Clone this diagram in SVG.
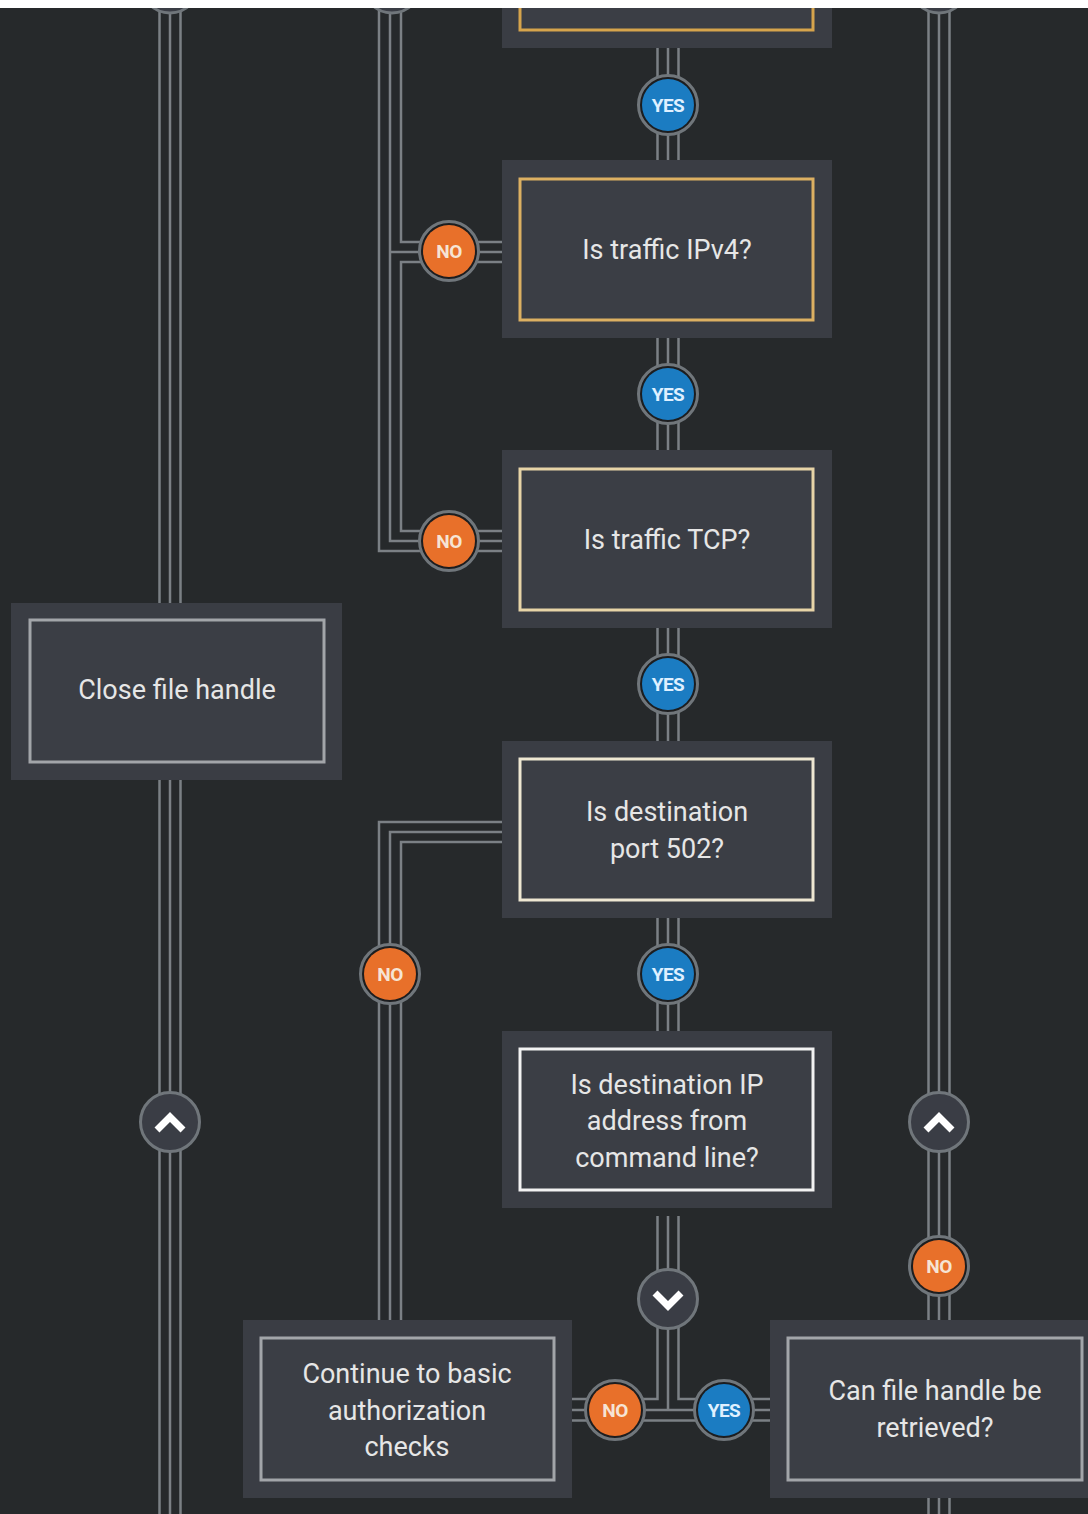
<svg xmlns="http://www.w3.org/2000/svg" width="1088" height="1514" viewBox="0 0 1088 1514">
<style>
.bg{fill:#26292b}
.outer{fill:#3a3d44}
.inner{fill:#3b3e45;stroke-width:3}
.c1{stroke:#d6a44c}
.c2{stroke:#dcb062}
.c3{stroke:#e7d4a7}
.c4{stroke:#eee7d2}
.c5{stroke:#f2f2f2}
.cg{stroke:#a2a5a9}
.lbl{font-family:Roboto,"Liberation Sans",sans-serif;font-size:27px;fill:#e6e6e6;text-anchor:middle}
.conn path{fill:none;stroke:#7b8085;stroke-width:2.5}
.ring{stroke:#70767b;stroke-width:3;fill:#1c1d1f}
.no{fill:#e8702a}
.yes{fill:#1b7cc2}
.btxt{font-family:Roboto,"Liberation Sans",sans-serif;font-weight:bold;font-size:19px;text-anchor:middle;letter-spacing:-0.6px}
.notxt{fill:#f6e4d4}
.yestxt{fill:#dff0ff}
.chev{stroke:#70767b;stroke-width:3;fill:#3a3d45}
.arrow{fill:none;stroke:#ffffff;stroke-width:7;stroke-linejoin:miter;stroke-linecap:butt}
</style>
<rect class="bg" x="0" y="0" width="1088" height="1514"/>

<g id="connectors" class="conn">
  <!-- left column x=170 -->
  <path d="M159.5 0V603M170 0V603M180.5 0V603"/>
  <path d="M159.5 780V1514M170 780V1514M180.5 780V1514"/>
  <!-- right column x=939 -->
  <path d="M928.5 0V1320M939 0V1320M949.5 0V1320"/>
  <path d="M928.5 1498V1514M939 1498V1514M949.5 1498V1514"/>
  <!-- main column -->
  <path d="M657.5 48V160M668 48V160M678.5 48V160"/>
  <path d="M657.5 338V450M668 338V450M678.5 338V450"/>
  <path d="M657.5 628V741M668 628V741M678.5 628V741"/>
  <path d="M657.5 918V1031M668 918V1031M678.5 918V1031"/>
  <!-- second column x=390 with NO branches -->
  <path d="M379 0V551H502M390 0V541H502M401 0V242H502"/>
  <path d="M390 252H502"/>
  <path d="M502 262H401V531H502"/>
  <!-- port 502 NO branch -->
  <path d="M502 822H379V1320M502 832H390V1320M502 842H401V1320"/>
  <!-- bottom junction -->
  <path d="M657.5 1216V1399H572M668 1216V1410M678.5 1216V1399H770"/>
  <path d="M572 1410H770M572 1420.5H770"/>
</g>

<g id="node-top">
  <rect class="outer" x="502" y="-130" width="330" height="178"/>
  <rect class="inner c1" x="520" y="-112" width="293" height="142"/>
</g>
<g id="node-ipv4">
  <rect class="outer" x="502" y="160" width="330" height="178"/>
  <rect class="inner c2" x="520" y="179" width="293" height="141"/>
  <text class="lbl" x="667" y="259">Is traffic IPv4?</text>
</g>
<g id="node-tcp">
  <rect class="outer" x="502" y="450" width="330" height="178"/>
  <rect class="inner c3" x="520" y="469" width="293" height="141"/>
  <text class="lbl" x="667" y="549">Is traffic TCP?</text>
</g>
<g id="node-port">
  <rect class="outer" x="502" y="741" width="330" height="177"/>
  <rect class="inner c4" x="520" y="759" width="293" height="141"/>
  <text class="lbl" x="667" y="821">Is destination</text>
  <text class="lbl" x="667" y="858">port 502?</text>
</g>
<g id="node-ip">
  <rect class="outer" x="502" y="1031" width="330" height="177"/>
  <rect class="inner c5" x="520" y="1049" width="293" height="141"/>
  <text class="lbl" x="667" y="1094">Is destination IP</text>
  <text class="lbl" x="667" y="1130">address from</text>
  <text class="lbl" x="667" y="1167">command line?</text>
</g>
<g id="node-close">
  <rect class="outer" x="11" y="603" width="331" height="177"/>
  <rect class="inner cg" x="30" y="620" width="294" height="142"/>
  <text class="lbl" x="177" y="699">Close file handle</text>
</g>
<g id="node-continue">
  <rect class="outer" x="243" y="1320" width="329" height="178"/>
  <rect class="inner cg" x="261" y="1338" width="293" height="142"/>
  <text class="lbl" x="407" y="1383">Continue to basic</text>
  <text class="lbl" x="407" y="1420">authorization</text>
  <text class="lbl" x="407" y="1456">checks</text>
</g>
<g id="node-canfile">
  <rect class="outer" x="770" y="1320" width="330" height="178"/>
  <rect class="inner cg" x="788" y="1338" width="294" height="142"/>
  <text class="lbl" x="935" y="1400">Can file handle be</text>
  <text class="lbl" x="935" y="1437">retrieved?</text>
</g>

<!-- partially visible circles at top -->
<g id="top-circle-1"><circle class="chev" cx="170" cy="-16" r="29"/></g>
<g id="top-circle-2"><circle class="chev" cx="392" cy="-16" r="29"/></g>
<g id="top-circle-3"><circle class="chev" cx="939" cy="-16" r="29"/></g>

<!-- YES badges -->
<g id="yes-1"><circle class="ring" cx="668" cy="105" r="29.5"/><circle class="yes" cx="668" cy="105" r="26"/><text class="btxt yestxt" x="668" y="112">YES</text></g>
<g id="yes-2"><circle class="ring" cx="668" cy="394" r="29.5"/><circle class="yes" cx="668" cy="394" r="26"/><text class="btxt yestxt" x="668" y="401">YES</text></g>
<g id="yes-3"><circle class="ring" cx="668" cy="684" r="29.5"/><circle class="yes" cx="668" cy="684" r="26"/><text class="btxt yestxt" x="668" y="691">YES</text></g>
<g id="yes-4"><circle class="ring" cx="668" cy="974" r="29.5"/><circle class="yes" cx="668" cy="974" r="26"/><text class="btxt yestxt" x="668" y="981">YES</text></g>
<g id="yes-5"><circle class="ring" cx="724" cy="1410" r="29.5"/><circle class="yes" cx="724" cy="1410" r="26"/><text class="btxt yestxt" x="724" y="1417">YES</text></g>

<!-- NO badges -->
<g id="no-1"><circle class="ring" cx="449" cy="251" r="29.5"/><circle class="no" cx="449" cy="251" r="26"/><text class="btxt notxt" x="449" y="258">NO</text></g>
<g id="no-2"><circle class="ring" cx="449" cy="541" r="29.5"/><circle class="no" cx="449" cy="541" r="26"/><text class="btxt notxt" x="449" y="548">NO</text></g>
<g id="no-3"><circle class="ring" cx="390" cy="974" r="29.5"/><circle class="no" cx="390" cy="974" r="26"/><text class="btxt notxt" x="390" y="981">NO</text></g>
<g id="no-4"><circle class="ring" cx="939" cy="1266" r="29.5"/><circle class="no" cx="939" cy="1266" r="26"/><text class="btxt notxt" x="939" y="1273">NO</text></g>
<g id="no-5"><circle class="ring" cx="615" cy="1410" r="29.5"/><circle class="no" cx="615" cy="1410" r="26"/><text class="btxt notxt" x="615" y="1417">NO</text></g>

<!-- chevron circles -->
<g id="up-left"><circle class="chev" cx="170" cy="1122" r="29.5"/><polyline class="arrow" points="157,1130 170,1117 183,1130"/></g>
<g id="up-right"><circle class="chev" cx="939" cy="1122" r="29.5"/><polyline class="arrow" points="926,1130 939,1117 952,1130"/></g>
<g id="down-mid"><circle class="chev" cx="668" cy="1299" r="29.5"/><polyline class="arrow" points="655,1293 668,1306 681,1293"/></g>

<rect x="0" y="0" width="1088" height="8" fill="#ffffff"/>
</svg>
